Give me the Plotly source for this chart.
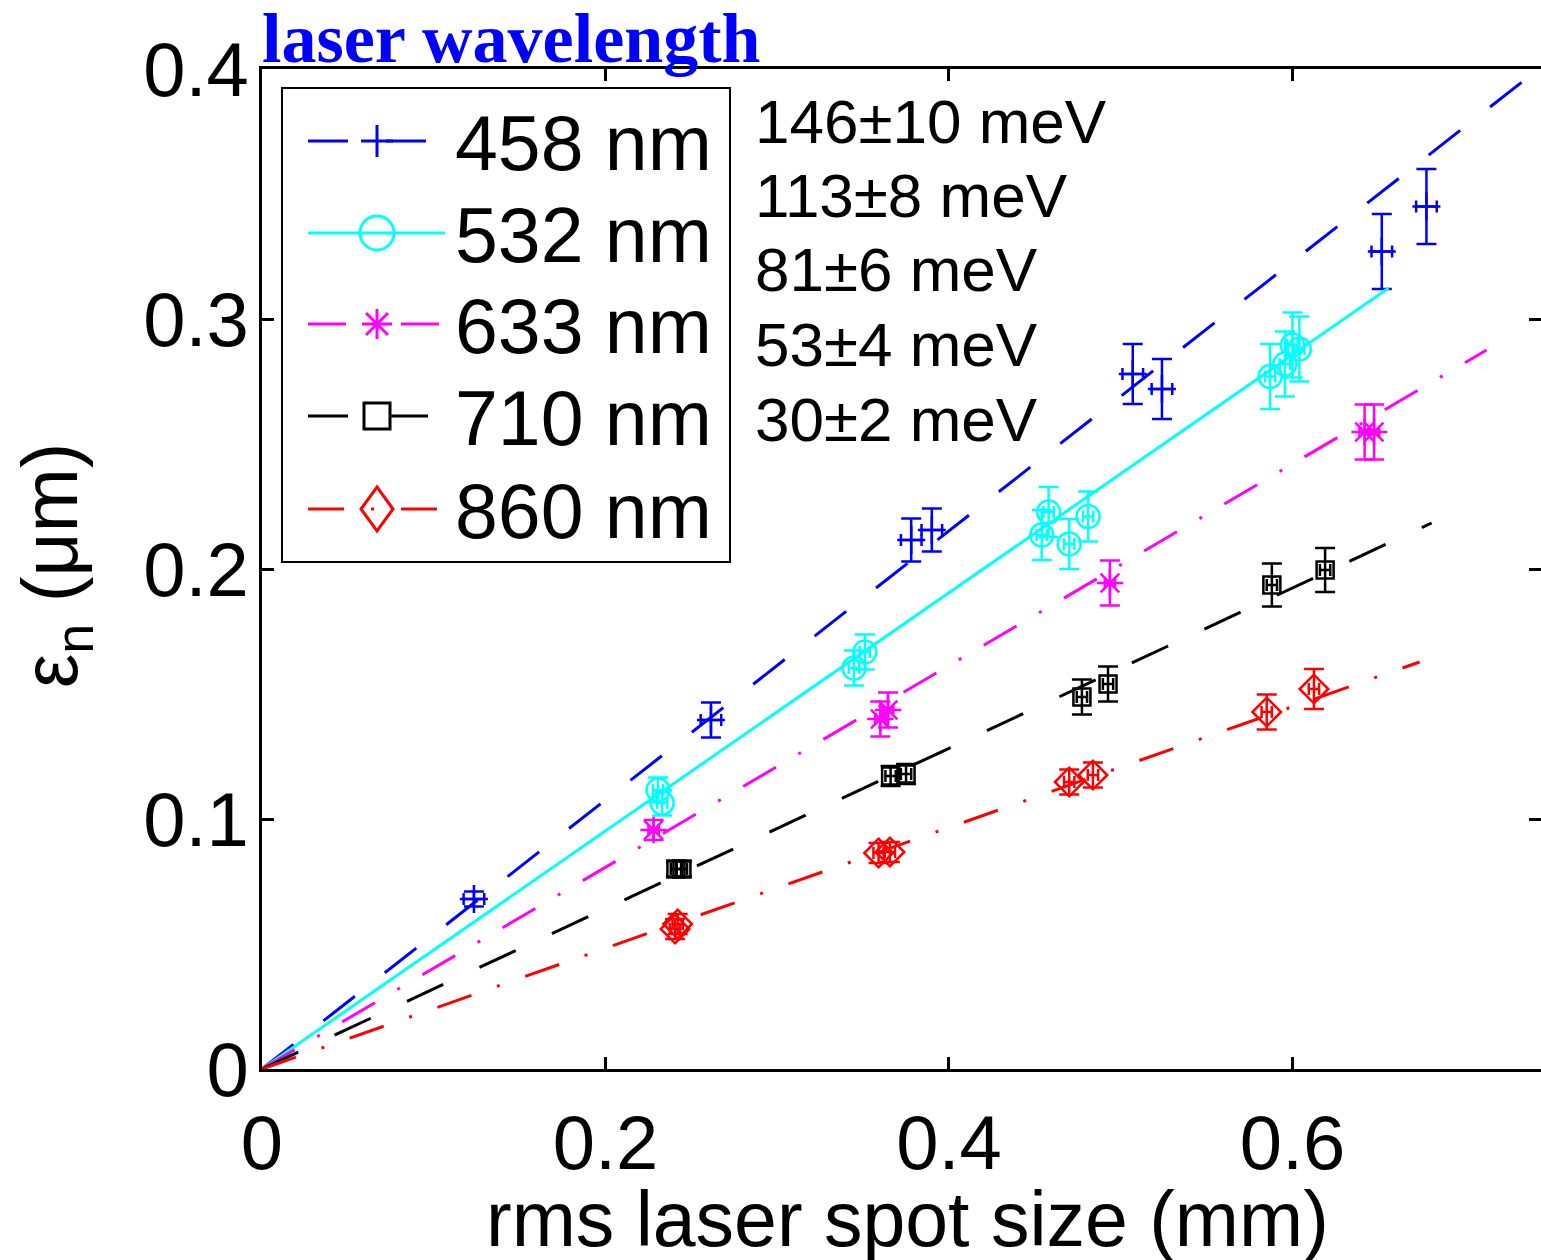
import plotly.graph_objects as go

# ---------------- data ----------------
names = ["458 nm", "532 nm", "633 nm", "710 nm", "860 nm"]
colors = ["#0000FF", "#00FFFF", "#FF00FF", "#000000", "#FF0000"]

x458 = [0.1234, 0.2614, 0.378, 0.390, 0.507, 0.524, 0.652, 0.678]
y458 = [0.068, 0.1396, 0.2116, 0.2156, 0.278, 0.272, 0.327, 0.345]
e458 = [0.003, 0.007, 0.0086, 0.0086, 0.012, 0.012, 0.015, 0.015]

x532 = [0.2306, 0.233, 0.3447, 0.351, 0.454, 0.458, 0.470, 0.481, 0.587, 0.5956, 0.600, 0.604]
y532 = [0.1116, 0.1064, 0.1604, 0.1668, 0.2136, 0.2228, 0.210, 0.221, 0.277, 0.282, 0.2896, 0.288]
e532 = [0.005, 0.005, 0.007, 0.007, 0.010, 0.010, 0.010, 0.010, 0.013, 0.013, 0.013, 0.013]

x633 = [0.228, 0.360, 0.3645, 0.4937, 0.642, 0.6475]
y633 = [0.0956, 0.140, 0.1436, 0.1944, 0.2548, 0.2548]
e633 = [0.004, 0.007, 0.007, 0.009, 0.011, 0.011]

x710 = [0.241, 0.2445, 0.366, 0.375, 0.4774, 0.4926, 0.588, 0.619]
y710 = [0.080, 0.080, 0.1172, 0.118, 0.1488, 0.154, 0.1936, 0.1996]
e710 = [0.003, 0.003, 0.004, 0.004, 0.007, 0.007, 0.0086, 0.0088]

x860 = [0.2405, 0.242, 0.359, 0.3656, 0.470, 0.4838, 0.585, 0.6125]
y860 = [0.056, 0.058, 0.0864, 0.0868, 0.1148, 0.1176, 0.1428, 0.152]
e860 = [0.004, 0.004, 0.004, 0.004, 0.005, 0.005, 0.007, 0.008]

xerr = [0.006, 0.003, 0.003, 0.003, 0.003]

# fitted lines through origin: endpoints
fit_x = [[0, 0.76], [0, 0.656], [0, 0.713], [0, 0.681], [0, 0.674]]
fit_y = [[0, 0.409], [0, 0.3124], [0, 0.2876], [0, 0.2184], [0, 0.1628]]

energies = ["146±10 meV", "113±8 meV", "81±6 meV", "53±4 meV", "30±2 meV"]

xticks = [0, 0.2, 0.4, 0.6]
xticklabels = ["0", "0.2", "0.4", "0.6"]
yticks = [0, 0.1, 0.2, 0.3, 0.4]
yticklabels = ["0", "0.1", "0.2", "0.3", "0.4"]

# ---------------- styles ----------------
dashes = ["40px,38px", "solid", "38px,26px,3px,26px", "40px,40px", "36px,27px,3px,27px"]
symbols = ["cross-thin-open", "circle-open", "asterisk-open", "square-open", "diamond-open"]
msizes = [20, 23, 22, 17, 22]

series = [(x458, y458, e458), (x532, y532, e532), (x633, y633, e633),
          (x710, y710, e710), (x860, y860, e860)]

W, H = 1541, 1260
L, R, T, B = 262, 0, 69, 191
PW, PH = W - L - R, H - T - B


def px(x):
    return (x - L) / PW


def py(y):
    return (H - B - y) / PH


fig = go.Figure()
for i, (xs, ys, es) in enumerate(series):
    c = colors[i]
    fig.add_trace(go.Scatter(
        x=fit_x[i], y=fit_y[i], mode="lines", name=names[i],
        line=dict(color=c, width=3, dash=dashes[i]),
        showlegend=False, hoverinfo="skip"))
    fig.add_trace(go.Scatter(
        x=xs, y=ys, mode="markers", name=names[i],
        marker=dict(symbol=symbols[i], size=msizes[i], color=c,
                    line=dict(color=c, width=2.5)),
        error_y=dict(type="data", array=es, visible=True, color=c,
                     thickness=2.5, width=10),
        error_x=dict(type="constant", value=xerr[i], visible=True, color=c,
                     thickness=2.5, width=6),
        showlegend=False))

# helper trace so that the right-hand tick axis is rendered
fig.add_trace(go.Scatter(x=[None], y=[None], yaxis="y2", showlegend=False,
                         hoverinfo="skip"))

axis_common = dict(
    ticks="inside", ticklen=12, tickwidth=2.5, tickcolor="black",
    showgrid=False, zeroline=False,
    tickfont=dict(family="Liberation Sans, Arial", size=76, color="black"),
)

fig.update_layout(
    width=W, height=H,
    margin=dict(l=L, r=R, t=T, b=B, pad=0),
    paper_bgcolor="white", plot_bgcolor="white",
    showlegend=False,
    xaxis=dict(range=[0, 0.7447], tickvals=xticks, ticktext=xticklabels,
               showline=True, linecolor="black", linewidth=3, mirror="ticks",
               ticklabelstandoff=6, **axis_common),
    yaxis=dict(range=[0, 0.4], tickvals=yticks, ticktext=yticklabels,
               showline=True, linecolor="black", linewidth=3, mirror=False,
               ticklabelstandoff=-5, **axis_common),
    yaxis2=dict(range=[0, 0.4], tickvals=yticks, overlaying="y", side="right",
                showticklabels=False, showline=False, ticks="inside", ticklen=12,
                tickwidth=2.5, tickcolor="black", showgrid=False, zeroline=False),
)

# ---------------- custom legend (box, line samples, glyphs, labels) ----------------
shapes = []
annotations = []
shapes.append(dict(type="rect", xref="paper", yref="paper",
                   x0=px(282), x1=px(730), y0=py(88), y1=py(562),
                   line=dict(color="black", width=2), fillcolor="white", layer="above"))
row_y = [141, 233, 324, 416, 509]
mx = 377
for i in range(5):
    c = colors[i]
    yy = row_y[i]
    shapes.append(dict(type="line", xref="paper", yref="paper",
                       x0=px(308), x1=px(445), y0=py(yy), y1=py(yy),
                       line=dict(color=c, width=3, dash=dashes[i]), layer="above"))
    lw = 3
    if i == 0:  # plus
        shapes.append(dict(type="line", xref="paper", yref="paper",
                           x0=px(mx), x1=px(mx), y0=py(yy - 16), y1=py(yy + 16),
                           line=dict(color=c, width=lw), layer="above"))
        shapes.append(dict(type="line", xref="paper", yref="paper",
                           x0=px(mx - 16), x1=px(mx + 16), y0=py(yy), y1=py(yy),
                           line=dict(color=c, width=lw), layer="above"))
    elif i == 1:  # circle
        shapes.append(dict(type="circle", xref="paper", yref="paper",
                           x0=px(mx - 17), x1=px(mx + 17), y0=py(yy - 17), y1=py(yy + 17),
                           line=dict(color=c, width=lw), layer="above"))
    elif i == 2:  # asterisk
        for (dx, dy) in [(0, 15), (15, 0), (11, 11), (11, -11)]:
            shapes.append(dict(type="line", xref="paper", yref="paper",
                               x0=px(mx - dx), x1=px(mx + dx),
                               y0=py(yy - dy), y1=py(yy + dy),
                               line=dict(color=c, width=lw), layer="above"))
    elif i == 3:  # square
        shapes.append(dict(type="rect", xref="paper", yref="paper",
                           x0=px(mx - 13), x1=px(mx + 13), y0=py(yy - 13), y1=py(yy + 13),
                           line=dict(color=c, width=lw), fillcolor="white", layer="above"))
    else:  # diamond
        p = "M {:.5f},{:.5f} L {:.5f},{:.5f} L {:.5f},{:.5f} L {:.5f},{:.5f} Z".format(
            px(mx), py(yy - 22), px(mx + 16), py(yy), px(mx), py(yy + 22), px(mx - 16), py(yy))
        shapes.append(dict(type="path", xref="paper", yref="paper", path=p,
                           line=dict(color=c, width=lw), layer="above"))
    annotations.append(dict(
        text=names[i], xref="paper", yref="paper", x=px(453), y=py(yy + 2),
        xanchor="left", yanchor="middle", showarrow=False,
        font=dict(family="Liberation Sans, Arial", size=77, color="black")))

for k, t in enumerate(energies):
    yy = 121 + k * 74.5
    annotations.append(dict(
        text=t, xref="paper", yref="paper", x=px(753), y=py(yy),
        xanchor="left", yanchor="middle", showarrow=False,
        font=dict(family="Liberation Sans, Arial", size=62, color="black")))

annotations.append(dict(
    text="<b>laser wavelength</b>", xref="paper", yref="paper",
    x=px(260), y=py(38), xanchor="left", yanchor="middle", showarrow=False,
    font=dict(family="Liberation Serif, Times New Roman", size=70, color="#0000FF")))

annotations.append(dict(
    text="rms laser spot size (mm)", xref="paper", yref="paper",
    x=px(907), y=py(1219), xanchor="center", yanchor="middle",
    showarrow=False,
    font=dict(family="Liberation Sans, Arial", size=77, color="black")))

annotations.append(dict(
    text="ε<sub>n</sub> (μm)", xref="paper", yref="paper",
    x=px(55), y=py(565), xanchor="center", yanchor="middle",
    textangle=-90, showarrow=False,
    font=dict(family="Liberation Sans, Arial", size=77, color="black")))

fig.update_layout(shapes=shapes, annotations=annotations)

fig.write_html("out.html")
